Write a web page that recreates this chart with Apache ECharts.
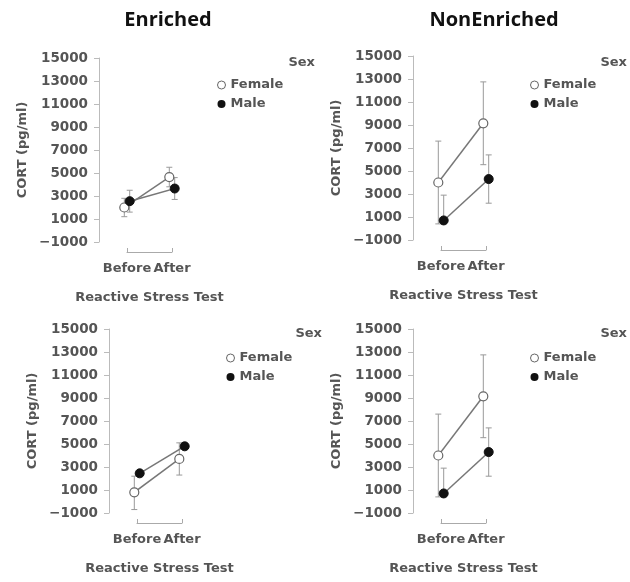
<!DOCTYPE html>
<html>
<head>
<meta charset="utf-8">
<script src="https://cdn.jsdelivr.net/npm/echarts@6/dist/echarts.min.js"></script>
<style>
  html, body { margin: 0; padding: 0; background: #fff; }
  #chart { width: 630px; height: 582px; }
</style>
</head>
<body>
<div id="chart"></div>
<script>
// x categories and y tick labels
var categories = ['Before', 'After'];
var yTicks = [-1000, 1000, 3000, 5000, 7000, 9000, 11000, 13000, 15000];
var seriesNames = ['Female', 'Male'];
var panelTitles = ['Enriched', 'NonEnriched'];

// top left: Enriched
var enrichedAFemale = [2000, 4650];
var enrichedAFemaleLow = [1200, 3800];
var enrichedAFemaleHigh = [2800, 5500];
var enrichedAMale = [2550, 3650];
var enrichedAMaleLow = [1600, 2700];
var enrichedAMaleHigh = [3500, 4600];

// top right: NonEnriched
var nonEnrichedAFemale = [4000, 9150];
var nonEnrichedAFemaleLow = [400, 5550];
var nonEnrichedAFemaleHigh = [7600, 12750];
var nonEnrichedAMale = [700, 4300];
var nonEnrichedAMaleLow = [700, 2200];
var nonEnrichedAMaleHigh = [2900, 6400];

// bottom left: Enriched
var enrichedBFemale = [800, 3700];
var enrichedBFemaleLow = [-700, 2300];
var enrichedBFemaleHigh = [2200, 5100];
var enrichedBMale = [2450, 4800];
var enrichedBMaleLow = [2250, 4550];
var enrichedBMaleHigh = [2650, 5050];

// bottom right: NonEnriched
var nonEnrichedBFemale = [4000, 9150];
var nonEnrichedBFemaleLow = [400, 5550];
var nonEnrichedBFemaleHigh = [7600, 12750];
var nonEnrichedBMale = [700, 4300];
var nonEnrichedBMaleLow = [700, 2200];
var nonEnrichedBMaleHigh = [2900, 6400];

var panels = [
    { left: 127, top: 58, female: [enrichedAFemale, enrichedAFemaleLow, enrichedAFemaleHigh], male: [enrichedAMale, enrichedAMaleLow, enrichedAMaleHigh], legendLeft: 217, legendTop: 77, sexRight: 315, sexTop: 56 },
    { left: 441, top: 56, female: [nonEnrichedAFemale, nonEnrichedAFemaleLow, nonEnrichedAFemaleHigh], male: [nonEnrichedAMale, nonEnrichedAMaleLow, nonEnrichedAMaleHigh], legendLeft: 530, legendTop: 77, sexRight: 3, sexTop: 56 },
    { left: 137, top: 329, female: [enrichedBFemale, enrichedBFemaleLow, enrichedBFemaleHigh], male: [enrichedBMale, enrichedBMaleLow, enrichedBMaleHigh], legendLeft: 226, legendTop: 350, sexRight: 308, sexTop: 327 },
    { left: 441, top: 329, female: [nonEnrichedBFemale, nonEnrichedBFemaleLow, nonEnrichedBFemaleHigh], male: [nonEnrichedBMale, nonEnrichedBMaleLow, nonEnrichedBMaleHigh], legendLeft: 530, legendTop: 350, sexRight: 3, sexTop: 327 }
];

var dodge = 0.06;
var textColor = '#555';
var font = 'DejaVu Sans';

function errorBarItem(params, api) {
    var x = api.value(0);
    var top = api.coord([x, api.value(2)]);
    var bot = api.coord([x, api.value(1)]);
    var w = 3;
    var style = { stroke: '#999', lineWidth: 1 };
    return {
        type: 'group',
        children: [
            { type: 'line', shape: { x1: top[0], y1: top[1], x2: bot[0], y2: bot[1] }, style: style },
            { type: 'line', shape: { x1: top[0] - w, y1: top[1], x2: top[0] + w, y2: top[1] }, style: style },
            { type: 'line', shape: { x1: bot[0] - w, y1: bot[1], x2: bot[0] + w, y2: bot[1] }, style: style }
        ]
    };
}

var chart = echarts.init(document.getElementById('chart'));
var option = {
    backgroundColor: '#fff',
    animation: false,
    title: [
        { text: panelTitles[0], left: 168, top: 10, textAlign: 'center', padding: 0, textStyle: { fontFamily: 'Open Sans', fontWeight: 'bold', fontSize: 20, color: '#111' } },
        { text: panelTitles[1], left: 494, top: 10, textAlign: 'center', padding: 0, textStyle: { fontFamily: 'Open Sans', fontWeight: 'bold', fontSize: 20, color: '#111' } }
    ],
    grid: [], xAxis: [], yAxis: [], series: [], legend: []
};

panels.forEach(function (p, k) {
    option.grid.push({ left: p.left, top: p.top, width: 45, height: 184 });
    option.xAxis.push({
        type: 'value', gridIndex: k, min: 0, max: 1, interval: 1, offset: 10,
        name: 'Reactive Stress Test', nameLocation: 'middle', nameGap: 39,
        nameTextStyle: { fontFamily: font, fontWeight: 'bold', fontSize: 13, color: textColor },
        axisLine: { onZero: false, lineStyle: { color: '#aaa' } },
        axisTick: { inside: true, length: 4, lineStyle: { color: '#aaa' } },
        axisLabel: { margin: 10, fontFamily: font, fontWeight: 'bold', fontSize: 13, color: textColor,
            formatter: function (v) { return categories[v]; } },
        splitLine: { show: false }
    });
    option.yAxis.push({
        type: 'value', gridIndex: k, min: yTicks[0], max: yTicks[yTicks.length - 1], offset: 28,
        name: 'CORT (pg/ml)', nameLocation: 'middle', nameGap: 70,
        nameTextStyle: { fontFamily: font, fontWeight: 'bold', fontSize: 13, color: textColor },
        axisLine: { show: true, onZero: false, lineStyle: { color: '#bbb' } },
        axisTick: { show: true, length: 5, lineStyle: { color: '#bbb' }, customValues: yTicks },
        axisLabel: { margin: 11, fontFamily: font, fontWeight: 'bold', fontSize: 13.5, color: textColor, customValues: yTicks,
            formatter: function (v) { return v < 0 ? '\u2212' + Math.abs(v) : String(v); } },
        splitLine: { show: false }
    });

    var groups = [
        { name: seriesNames[0], d: p.female, shift: -dodge, item: { color: '#fff', borderColor: '#666', borderWidth: 1.2 } },
        { name: seriesNames[1], d: p.male, shift: dodge, item: { color: '#111', borderColor: '#111', borderWidth: 1 } }
    ];
    groups.forEach(function (g) {
        option.series.push({
            type: 'custom', name: g.name, xAxisIndex: k, yAxisIndex: k, z: 1, clip: false,
            renderItem: errorBarItem,
            encode: { x: 0, y: [1, 2] },
            data: g.d[0].map(function (v, i) { return [i + g.shift, g.d[1][i], g.d[2][i]]; })
        });
    });
    groups.forEach(function (g) {
        option.series.push({
            type: 'line', name: g.name, xAxisIndex: k, yAxisIndex: k, z: 3, clip: false,
            symbol: 'circle', symbolSize: 9, itemStyle: g.item,
            lineStyle: { color: '#777', width: 1.5 },
            data: g.d[0].map(function (v, i) { return [i + g.shift, v]; })
        });
    });

    option.legend.push({
        orient: 'vertical', left: p.legendLeft, top: p.legendTop, padding: 0,
        itemWidth: 8, itemHeight: 8, itemGap: 3, selectedMode: false,
        textStyle: { fontFamily: font, fontWeight: 'bold', fontSize: 13, color: textColor, lineHeight: 16 },
        data: [
            { name: seriesNames[0], icon: 'circle', itemStyle: { color: '#fff', borderColor: '#666', borderWidth: 1 } },
            { name: seriesNames[1], icon: 'circle', itemStyle: { color: '#111', borderColor: '#111', borderWidth: 0 } }
        ]
    });
    option.title.push({
        text: 'Sex', right: p.sexRight, top: p.sexTop, padding: 0,
        textStyle: { fontFamily: font, fontWeight: 'bold', fontSize: 13, color: textColor }
    });
});

chart.setOption(option);
</script>
</body>
</html>
